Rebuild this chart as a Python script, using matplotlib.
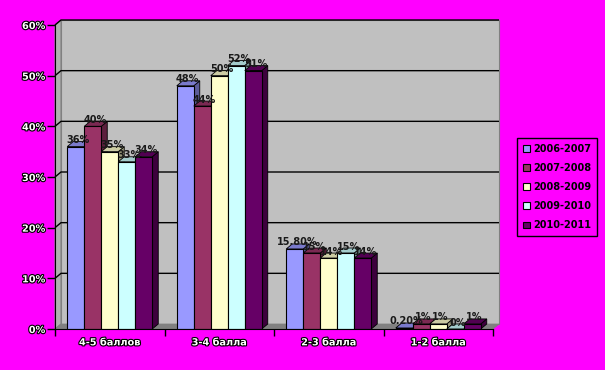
import matplotlib
matplotlib.use("Agg")
import matplotlib.pyplot as plt
import matplotlib.patheffects as pe
from matplotlib.patches import Polygon, Rectangle
import numpy as np

categories = ["4-5 баллов", "3-4 балла", "2-3 балла", "1-2 балла"]
series_names = ["2006-2007", "2007-2008", "2008-2009", "2009-2010", "2010-2011"]
values = {
    "2006-2007": [36, 48, 15.8, 0.2],
    "2007-2008": [40, 44, 15, 1],
    "2008-2009": [35, 50, 14, 1],
    "2009-2010": [33, 52, 15, 0],
    "2010-2011": [34, 51, 14, 1],
}
labels = {
    "2006-2007": ["36%", "48%", "15.80%", "0.20%"],
    "2007-2008": ["40%", "44%", "15%", "1%"],
    "2008-2009": ["35%", "50%", "14%", "1%"],
    "2009-2010": ["33%", "52%", "15%", "0%"],
    "2010-2011": ["34%", "51%", "14%", "1%"],
}
y_ticks = [0, 10, 20, 30, 40, 50, 60]
y_tick_labels = ["0%", "10%", "20%", "30%", "40%", "50%", "60%"]

colors = ["#9999FF", "#993366", "#FFFFCC", "#CCFFFF", "#660066"]
side_colors = ["#5C5C99", "#5C1F3D", "#99997A", "#7A9999", "#3D003D"]
top_colors = ["#7A7ACC", "#7A2952", "#CCCCA3", "#A3CCCC", "#520052"]

W, H = 605, 370
fig = plt.figure(figsize=(W / 100, H / 100), dpi=100)
fig.patch.set_facecolor("#FF00FF")

L, R, T, B = 55, 493, 25, 329
ax = fig.add_axes([L / W, 1 - B / H, (R - L) / W, (B - T) / H])
ax.set_facecolor("none")
ax.set_xlim(-0.5, 3.5)
ax.set_ylim(0, 60)

# depth offsets in data units
px_x = 4.0 / (R - L)
px_y = 60.0 / (B - T)
dxp, dyp = 6, 5
dx = dxp * px_x
dy = dyp * px_y
x0, x1 = -0.5, 3.5

# back wall
ax.add_patch(Rectangle((x0 + dx, dy), x1 - x0, 60, facecolor="#C0C0C0",
                       edgecolor="#808080", lw=0.8, zorder=0, clip_on=False))
# left side wall
ax.add_patch(Polygon([(x0, 0), (x0 + dx, dy), (x0 + dx, 60 + dy), (x0, 60)], closed=True,
                     facecolor="#B0B0B0", edgecolor="#808080", lw=0.8, zorder=0.5, clip_on=False))
# floor
ax.add_patch(Polygon([(x0, 0), (x1, 0), (x1 + dx, dy), (x0 + dx, dy)], closed=True,
                     facecolor="#808080", edgecolor="#808080", lw=0.5, zorder=0.6, clip_on=False))
# gridlines
for v in y_ticks[1:]:
    ax.plot([x0, x0 + dx, x1 + dx], [v, v + dy, v + dy], color="black", lw=1.0, zorder=0.7,
            clip_on=False, solid_capstyle="butt")

n = len(series_names)
bw = 17.0 / ((R - L) / 4.0)
xs = np.arange(len(categories))
for i, s in enumerate(series_names):
    vals = values[s]
    for j, v in enumerate(vals):
        xl = xs[j] - n * bw / 2 + i * bw
        xr = xl + bw
        z = 2 + i * 0.1 + j
        ax.add_patch(Polygon([(xr, 0), (xr + dx, dy), (xr + dx, v + dy), (xr, v)], closed=True,
                             facecolor=side_colors[i], edgecolor="black", lw=0.6, zorder=z, clip_on=False))
        ax.add_patch(Polygon([(xl, v), (xr, v), (xr + dx, v + dy), (xl + dx, v + dy)], closed=True,
                             facecolor=top_colors[i], edgecolor="black", lw=0.6, zorder=z, clip_on=False))
    ax.bar(xs - n * bw / 2 + i * bw, vals, width=bw, align="edge", color=colors[i],
           edgecolor="black", linewidth=0.8, zorder=2 + i * 0.1 + 0.05, label=s)
    for j, v in enumerate(vals):
        xc = xs[j] - n * bw / 2 + (i + 0.5) * bw + dx * 0.4
        ax.text(xc, v + dy * 0.3, labels[s][j], ha="center", va="bottom", fontsize=7,
                fontweight="bold", color="#1a1a1a", zorder=20, clip_on=False)

for cont in ax.containers:
    for j, p in enumerate(cont.patches):
        p.set_zorder(p.get_zorder() + j)

for sp in ["top", "right"]:
    ax.spines[sp].set_visible(False)
ax.spines["left"].set_color("black")
ax.spines["bottom"].set_color("black")
ax.spines["left"].set_zorder(30)
ax.spines["bottom"].set_zorder(30)

white_fx = [pe.withStroke(linewidth=1.6, foreground="black")]
ax.set_yticks(y_ticks)
ax.set_yticklabels(y_tick_labels, fontsize=7, fontweight="bold", color="white")
for t in ax.get_yticklabels():
    t.set_path_effects(white_fx)
ax.tick_params(axis="y", length=6, width=1, color="black", pad=1)

ax.set_xticks([-0.5, 0.5, 1.5, 2.5, 3.5])
ax.set_xticklabels([])
ax.set_xticks(xs, minor=True)
ax.set_xticklabels(categories, minor=True, fontsize=7, fontweight="bold", color="white")
for t in ax.get_xticklabels(minor=True):
    t.set_path_effects(white_fx)
ax.tick_params(axis="x", which="major", length=5, width=1, color="black")
ax.tick_params(axis="x", which="minor", length=0, pad=6)

handles = [Rectangle((0, 0), 1, 1, facecolor=colors[i], edgecolor="black", lw=0.8) for i in range(n)]
leg = fig.legend(handles, series_names, loc="center left",
                 bbox_to_anchor=(517 / W, 1 - 187 / H), bbox_transform=fig.transFigure,
                 prop={"weight": "bold", "size": 7}, frameon=True, fancybox=False,
                 facecolor="#FF00FF", edgecolor="black", framealpha=1,
                 handlelength=0.7, handleheight=0.7, handletextpad=0.4,
                 labelspacing=0.95, borderpad=0.6, borderaxespad=0)
leg.get_frame().set_linewidth(1.0)

fig.savefig("out.png", dpi=100, facecolor=fig.get_facecolor())
